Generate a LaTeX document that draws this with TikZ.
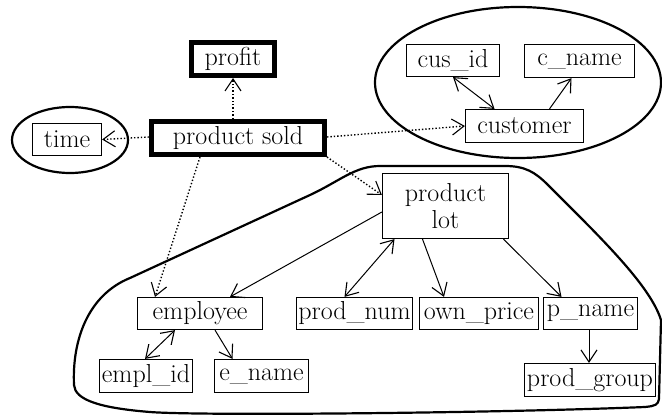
\documentclass[tikz,border=0pt]{standalone}
\usetikzlibrary{arrows.meta}
\tikzset{ebarb/.tip={Straight Barb[length=12pt,width=16pt,line width=1.1pt]}}
\begin{document}
\begin{tikzpicture}[x=1pt,y=-1pt,
  every node/.style={font=\fontsize{26}{27}\selectfont, inner sep=0pt},
  attr/.style={draw, line width=1.2pt},
  fact/.style={draw, line width=5pt},
  group/.style={line width=2.2pt},
  dotlink/.style={line width=1.4pt, dash pattern=on 1.4pt off 2pt, -{ebarb}},
  link/.style={line width=1pt, -{ebarb}},
  dlink/.style={line width=1pt, {ebarb}-{ebarb}}]
\useasboundingbox (0,0) rectangle (662,415);

% groups of dimensions
\draw[group] (70,140) ellipse [x radius=58, y radius=33];
\draw[group] (518,82.5) ellipse [x radius=143, y radius=75.5];
\draw[group] (380,166) -- (505,166)
  .. controls (525,166) and (535,172) .. (548,185)
  .. controls (600,237) and (650,285) .. (661,320)
  -- (659,399)
  .. controls (658,405) and (655,406) .. (645,407)
  .. controls (500,413) and (200,416) .. (150,412)
  .. controls (100,408) and (75,400) .. (74,385)
  .. controls (72,340) and (88,295) .. (130,278)
  -- (310,195)
  .. controls (340,181) and (355,166) .. (380,166) -- cycle;

% fact and measure
\node[fact, minimum width=83pt, minimum height=33pt] (profit) at (233,59) {profit};
\node[fact, minimum width=173pt, minimum height=33pt] (sold) at (238,138) {product sold};

% time
\node[attr, minimum width=69pt, minimum height=32pt] (time) at (67,139.5) {time};

% customer dimension
\node[attr, minimum width=93pt, minimum height=32pt] (cusid) at (453,60.5) {cus\_id};
\node[attr, minimum width=110pt, minimum height=33pt] (cname) at (579.5,61) {c\_name};
\node[attr, minimum width=118pt, minimum height=33pt] (customer) at (524.5,126) {customer};

% product lot dimension
\node[attr, minimum width=126pt, minimum height=65pt, align=center] (lot) at (445.5,206) {product\\lot};
\node[attr, minimum width=125pt, minimum height=32pt] (employee) at (200,313.5) {employee};
\node[attr, minimum width=116pt, minimum height=32pt] (prodnum) at (354.5,313.5) {prod\_num};
\node[attr, minimum width=119pt, minimum height=32pt] (ownprice) at (479,313.5) {own\_price};
\node[attr, minimum width=94pt, minimum height=32pt] (pname) at (590.5,313.5) {p\_name};
\node[attr, minimum width=93pt, minimum height=33pt] (emplid) at (146,376) {empl\_id};
\node[attr, minimum width=94pt, minimum height=33pt] (ename) at (261.5,376) {e\_name};
\node[attr, minimum width=131pt, minimum height=33pt] (pgroup) at (590,380) {prod\_group};

% links from the fact
\draw[dotlink] ([xshift=-5pt]sold.north) -- (profit.south);
\draw[dotlink] ([yshift=1pt]sold.west) -- (time.east);
\draw[dotlink] ([yshift=1pt]sold.east) -- (customer.west);
\draw[dotlink] (sold.south east) -- ([yshift=11pt]lot.west);
\draw[dotlink] ([xshift=-38pt]sold.south) -- ([xshift=-45pt]employee.north);

% attribute links
\draw[dlink] (cusid.south) -- ([xshift=-30pt]customer.north);
\draw[link] ([xshift=25pt]customer.north) -- ([xshift=-8pt]cname.south);
\draw[link] ([yshift=-6pt]lot.west) -- ([xshift=30pt]employee.north);
\draw[dlink] ([xshift=-51pt]lot.south) -- ([xshift=-10pt]prodnum.north);
\draw[link] ([xshift=-23pt]lot.south) -- ([xshift=-35pt]ownprice.north);
\draw[link] ([xshift=58pt]lot.south) -- ([xshift=-29pt]pname.north);
\draw[link] ([xshift=-1.5pt]pname.south) -- ([xshift=-1pt]pgroup.north);
\draw[dlink] ([xshift=-25pt]employee.south) -- ([xshift=-1pt]emplid.north);
\draw[link] ([xshift=15pt]employee.south) -- ([xshift=-29pt]ename.north);
\end{tikzpicture}
\end{document}
